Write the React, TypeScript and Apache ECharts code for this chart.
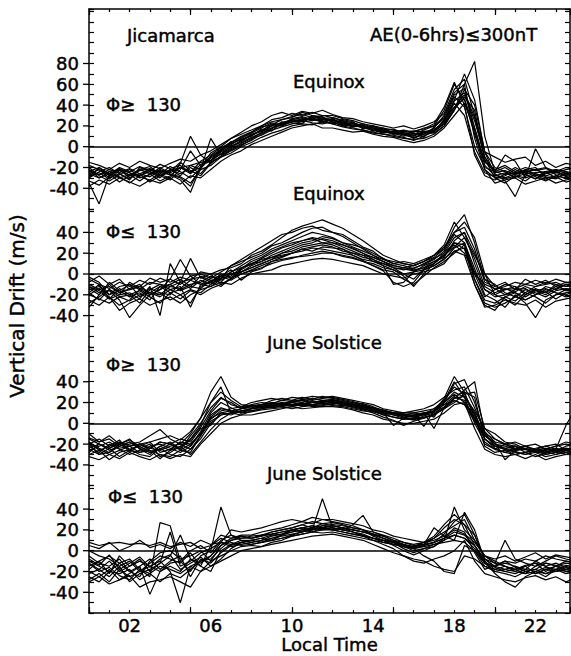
import React, { useEffect, useRef } from 'react';
import * as echarts from 'echarts';

// ---------- data ----------
const hours = [0, 0.5, 1, 1.5, 2, 2.5, 3, 3.5, 4, 4.5, 5, 5.5, 6, 6.5, 7, 7.5, 8, 8.5, 9, 9.5, 10, 10.5, 11, 11.5,
  12, 12.5, 13, 13.5, 14, 14.5, 15, 15.5, 16, 16.5, 17, 17.5, 18, 18.5, 19, 19.5, 20, 20.5, 21, 21.5, 22, 22.5, 23, 23.5, 24];

// Panel 1: Equinox, flux >= 130
const equinoxHighFlux = [
  [-20,-28,-33,-27,-22,-29,-32,-26, -19,-24,-30,-21,-10,-4,2,8, 13,18,23,21,27,29,26,24, 27,22,19,20,16,13,15,11, 9,12,18,30,52,60,8,-22, -30,-28,-22,-27,-31,-26,-23,-29, -25],
  [-30,-24,-20,-26,-31,-22,-19,-27, -30,-16,10,-8,-16,-9,-3,2, 6,12,17,24,23,22,30,29, 23,26,24,17,19,17,12,14, 15,14,13,20,35,55,40,-5, -20,-24,-30,-22,-20,-29,-31,-25, -28],
  [-33,-37,-29,-22,-25,-30,-27,-20, -26,-29,-35,-22,8,-8,-2,3, 8,11,16,19,22,24,25,27, 26,21,23,20,15,18,13,10, 13,11,14,22,42,30,-5,-25, -29,-31,-28,-33,-26,-30,-28,-24, -30],
  [-18,-22,-27,-20,-24,-19,-23,-17, -21,-18,-25,-14,-8,-1,4,9, 14,19,21,26,29,31,28,30, 28,25,20,22,18,16,17,13, 12,16,20,35,60,45,12,-15, -22,-18,-24,-20,-23,-21,-25,-22, -20],
  [-26,-30,-24,-29,-35,-28,-24,-30, -22,-26,-20,-26,-15,-10,-4,1, 7,14,20,20,24,25,23,22, 24,20,18,16,14,12,11,9, 6,10,15,25,45,70,45,-5, -27,-30,-26,-24,-29,-33,-28,-30, -27],
  [-24,-20,-26,-30,-27,-23,-21,-25, -27,-30,-38,-20,-11,-5,0,6, 11,16,20,23,26,25,29,27, 25,24,22,19,18,14,13,12, 11,14,17,22,35,60,82,10, -25,-23,-27,-24,-22,-26,-24,-28, -23],
  [-28,-25,-31,-23,-27,-33,-26,-22, -25,-20,-26,-17,-13,-7,1,4, 9,13,18,21,24,27,26,25, 22,24,19,21,16,14,15,12, 10,15,14,26,48,38,0,-20, -24,-8,-14,-30,-2,-20,-27,-31, -26],
  [-35,-55,-27,-21,-25,-28,-22,-28, -24,-15,-23,-28,-16,-4,3,7, 10,17,15,23,25,24,28,23, 26,22,23,18,20,16,14,15, 13,9,19,27,38,50,25,-10, -26,-33,-48,-26,-25,-24,-30,-26, -28],
  [-23,-27,-22,-25,-21,-26,-29,-23, -27,-32,-44,-19,-9,-3,5,6, 12,15,22,20,26,28,25,28, 24,20,21,18,16,15,12,13, 8,12,16,22,38,46,18,-18, -28,-25,-29,-26,-31,-24,-22,-26, -24],
  [-25,-27,-24,-22,-28,-26,-22,-24, -23,-20,-18,-15,-13,-7,-1,5, 11,15,18,22,24,26,27,26, 25,23,20,19,17,15,13,12, 11,13,16,24,44,52,28,-10, -24,-27,-25,-23,-26,-28,-25,-27, -26],
  [-15,-18,-22,-16,-20,-14,-18,-21, -16,-12,-14,-8,-4,2,8,14, 20,24,30,33,30,34,32,35, 31,28,27,24,22,20,18,20, 17,20,24,32,55,65,30,-5, -10,-15,-12,-10,-18,-14,-20,-16, -18],
  [-38,-32,-36,-30,-34,-38,-32,-35, -30,-36,-28,-30,-22,-14,-8,-4, 2,6,10,14,18,20,22,18, 18,16,14,15,12,10,9,6, 4,6,10,18,30,42,15,-22, -35,-32,-30,-36,-33,-30,-35,-32, -30],
  [-22,-30,-26,-34,-28,-22,-26,-33, -28,-20,-24,-20,-6,0,8,12, 16,20,26,28,32,30,33,30, 30,27,25,22,20,18,16,14, 15,17,22,38,62,40,-8,-28, -32,-26,-20,-25,-22,-20,-24,-20, -22],
  [-30,-20,-28,-22,-30,-26,-34,-28, -22,-28,-18,-22,-18,-10,-6,0, 4,9,13,16,20,22,21,24, 22,19,17,16,13,12,10,8, 7,8,12,20,36,48,35,-12, -30,-35,-28,-30,-27,-32,-29,-34, -31],
  [-26,-22,-30,-26,-32,-20,-24,-28, -32,-22,-4,-18,-14,-2,4,10, 14,20,24,26,28,33,30,27, 28,25,23,20,18,16,14,16, 14,18,20,28,50,56,18,-14, -24,-20,-26,-22,-28,-25,-22,-24, -26],
];

// Panel 2: Equinox, flux <= 130
const equinoxLowFlux = [
  [-5,-10,-14,-8,-12,-6,-10,-4, -8,-3,-6,2,0,4,6,10, 18,22,28,35,42,46,49,52, 48,44,38,32,25,18,14,10, 8,12,16,24,45,57,30,-5, -15,-12,-8,-10,-6,-9,-5,-8, -7],
  [-20,-24,-28,-22,-26,-20,-18,-22, -15,-12,-32,-10,-8,-12,-4,0, 3,6,10,13,15,18,20,22, 20,17,15,12,8,4,2,-5, -10,-2,6,12,20,28,-5,-28, -32,-28,-22,-25,-20,-17,-24,-18, -16],
  [-12,-18,-16,-25,-42,-30,-20,-15, -10,-5,-12,-2,-6,-8,2,8, 14,18,24,28,32,36,40,38, 35,30,28,25,20,15,10,8, 5,10,15,20,35,40,10,-15, -20,-24,-30,-20,-15,-18,-12,-15, -14],
  [-28,-22,-15,-20,-18,-24,-12,-40, 10,-8,15,-4,0,-10,-5,4, 10,12,16,18,20,24,22,26, 25,24,18,14,12,8,4,-2, -12,0,10,18,28,20,0,-10, -14,-20,-17,-12,-16,-20,-14,-10, -12],
  [-15,-12,-20,-16,-22,-18,-25,-12, -18,-15,-10,-8,-2,-6,0,2, 6,10,14,17,20,22,25,24, 22,20,18,13,8,3,-8,-12, -8,4,8,15,22,18,-10,-30, -35,-22,-18,-25,-20,-15,-18,-22, -20],
  [-32,-20,-10,-18,-14,-10,-20,-15, -5,14,-2,-10,-12,-5,8,12, 16,20,27,30,35,40,44,45, 40,38,32,26,22,14,12,10, 8,12,18,28,50,35,18,0, -12,-15,-14,-10,-12,-8,-10,-12, -11],
  [-20,-14,-22,-30,-25,-15,-20,-18, -25,-20,-28,-12,-8,-2,-6,0, 4,8,12,14,16,17,18,20, 20,18,16,12,10,6,4,0, 2,4,8,14,25,30,5,-20, -25,-32,-20,-28,-42,-25,-20,-15, -18],
  [-3,-8,-20,-12,-10,-15,-8,-10, -12,-8,-5,-3,-8,0,-4,5, 12,16,22,26,30,32,35,33, 30,28,25,20,16,12,6,4, 6,9,14,22,38,30,0,-22, -15,-10,-12,-18,-12,-10,-8,-12, -10],
  [-18,-25,-15,-22,-20,-28,-15,-10, -15,-20,-15,-18,-10,-4,2,6, 9,15,20,25,28,32,34,30, 28,24,20,18,12,10,6,5, 3,6,10,18,30,24,2,-15, -22,-20,-15,-14,-20,-12,-15,-10, -14],
  [-10,-15,-12,-18,-15,-12,-18,-20, -12,-14,-6,-10,-4,-2,4,-6, 2,5,12,16,20,24,26,28, 26,22,20,16,14,8,-10,-8, 2,8,12,16,32,40,20,-5, -10,-18,-22,-15,-18,-22,-16,-14, -15],
  [-8,-2,-10,-5,-15,-12,-4,-8, -5,-10,-2,0,-4,2,8,14, 20,26,32,38,40,44,46,42, 40,36,30,24,18,12,8,6, 8,12,18,26,40,45,24,-8, -12,-8,-15,-5,-10,-6,-12,-8, -10],
  [-25,-30,-22,-35,-28,-24,-30,-26, -22,-28,-20,-15,-12,-8,-10,-4, 0,2,4,8,10,12,14,15, 14,12,10,8,4,0,-2,-4, 0,2,5,10,22,25,-10,-32, -30,-25,-28,-30,-25,-32,-26,-24, -22],
  [-14,-20,-8,-16,-10,-22,-14,-18, -20,-8,-14,-6,-10,-2,0,2, 8,12,18,22,26,30,32,36, 34,30,26,22,18,14,10,12, 10,14,18,24,40,50,35,0, -20,-15,-12,-20,-14,-18,-10,-16, -15],
  [-18,-10,-24,-14,-20,-16,-22,-28, -18,-24,-16,-20,-14,-10,-4,2, 6,10,14,20,24,28,30,34, 32,28,24,20,14,10,6,0, -5,5,10,20,30,28,-5,-25, -28,-22,-26,-18,-22,-28,-20,-18, -17],
  [-12,-16,-24,-20,-8,-14,-18,-12, -10,-16,-12,-14,-6,-4,-2,6, 10,14,16,20,22,26,28,30, 30,26,22,18,16,12,8,6, 4,6,12,18,26,35,15,-12, -18,-14,-18,-22,-16,-14,-18,-20, -16],
];

// Panel 3: June solstice, flux >= 130
const juneHighFlux = [
  [-18,-24,-28,-20,-15,-25,-30,-22, -18,-25,-12,0,15,25,18,15, 16,18,20,18,22,20,24,22, 21,20,18,16,14,12,10,8, 8,10,12,22,35,28,10,-15, -22,-25,-28,-30,-28,-32,-30,-26, -28],
  [-28,-20,-24,-32,-26,-20,-18,-28, -25,-18,-20,-10,5,10,8,12, 14,15,16,20,18,17,20,21, 22,20,16,14,12,8,6,4, 5,6,8,15,25,22,5,-20, -25,-20,-22,-28,-25,-30,-28,-24, -25],
  [-10,-18,-15,-22,-20,-18,-12,-6, -15,-20,-10,5,30,45,25,18, 17,18,22,24,22,25,23,26, 24,22,20,19,16,12,10,8, 6,9,14,22,40,25,12,-5, -15,-20,-25,-22,-26,-24,-27,-22, -20],
  [-30,-26,-35,-28,-25,-30,-32,-24, -30,-32,-25,-15,0,8,10,12, 12,14,15,16,14,16,17,18, 20,18,15,13,10,6,3,-2, 2,5,8,14,20,28,30,-5, -10,-18,-20,-25,-28,-25,-22,-18, -20],
  [-22,-28,-20,-25,-30,-26,-22,-20, -24,-28,-22,-8,10,20,15,10, 14,16,15,17,20,19,18,20, 21,19,18,15,14,10,-2,5, 8,10,6,20,30,25,0,-18, -25,-28,-30,-28,-32,-29,-26,-30, -28],
  [-20,-15,-22,-18,-25,-22,-28,-25, -20,-15,-18,-5,-2,10,12,14, 16,18,17,18,20,18,20,19, 18,17,16,14,12,11,9,8, 10,8,12,18,22,18,10,-12, -20,-24,-22,-25,-24,-22,-25,-28, -26],
  [-25,-30,-28,-22,-18,-24,-20,-32, -28,-22,-15,-2,20,35,10,8, 12,14,18,16,18,20,16,17, 19,20,18,16,12,8,10,6, 4,10,-5,15,22,18,2,-12, -18,-35,-26,-24,-27,-28,-25,-2, 15],
  [-15,-20,-24,-20,-26,-28,-24,-18, -20,-26,-28,-12,8,15,12,10, 14,16,18,20,17,19,21,20, 22,21,19,17,14,12,8,7, 6,8,12,24,45,30,5,-10, -22,-25,-27,-30,-26,-28,-24,-26, -24],
  [-26,-22,-18,-24,-22,-20,-26,-30, -32,-26,-20,-10,4,12,14,16, 17,16,19,18,20,22,20,21, 20,18,16,14,12,10,8,5, 3,7,10,16,24,32,40,-10, -20,-22,-25,-24,-28,-26,-25,-24, -25],
  [-20,-25,-30,-26,-22,-20,-24,-26, -22,-20,-25,-12,2,8,10,12, 14,15,16,17,18,17,18,19, 20,18,17,15,13,11,9,8, 8,-3,12,20,28,20,4,-15, -22,-24,-26,-25,-27,-30,-28,-25, -24],
  [-14,-18,-12,-20,-16,-22,-18,-15, -12,-16,-8,5,20,30,22,16, 20,22,24,22,25,24,26,25, 26,24,22,20,18,14,12,10, 12,14,18,25,32,35,15,-8, -18,-20,-24,-22,-20,-25,-22,-20, -22],
  [-32,-35,-30,-34,-28,-32,-35,-30, -34,-30,-32,-20,-10,0,5,8, 8,10,12,14,16,14,15,16, 16,15,13,10,8,4,2,0, 0,2,4,10,18,20,-5,-25, -30,-32,-30,-34,-30,-35,-32,-30, -30],
  [-24,-20,-26,-22,-18,-24,-28,-22, -26,-22,-30,-18,-6,4,10,14, 18,20,19,22,21,23,22,24, 25,23,21,18,15,12,10,10, 10,12,14,20,38,42,20,-10, -15,-20,-18,-22,-25,-22,-20,-26, -24],
  [-18,-26,-22,-16,-28,-20,-24,-18, -20,-24,-16,-4,12,24,20,14, 15,17,20,19,21,22,20,22, 23,21,20,17,15,13,10,9, 7,9,11,18,26,30,25,-15, -24,-28,-25,-22,-26,-27,-30,-28, -27],
  [-20,-30,-24,-18,-22,-28,-26,-34, -26,-18,-22,-10,6,14,12,10, 11,13,14,15,16,18,17,16, 17,16,14,12,11,9,6,4, 4,5,9,14,24,26,8,-22, -28,-26,-30,-28,-26,-24,-28,-30, -26],
];

// Panel 4: June solstice, flux <= 130
const juneLowFlux = [
  [8,5,7,8,6,7,5,8, 4,6,8,2,5,15,12,14, 12,14,18,20,22,25,28,26, 27,25,22,20,18,15,12,8, 5,6,8,12,18,15,5,-8, -15,-10,-12,-8,-10,-5,-8,-10, -12],
  [-20,-25,-18,-28,-22,-15,-42,-20, -15,-20,-8,-12,-5,5,10,12, 14,15,16,18,20,22,24,22, 24,22,20,18,16,12,8,4, 2,4,6,10,15,12,2,-12, -20,-22,-25,-20,-18,-22,-20,-18, -20],
  [-10,-15,-20,-12,-8,-18,-25,27, 24,-10,-20,-5,0,42,15,10, 8,10,14,16,20,22,20,22, 24,22,18,16,12,8,6,4, 0,2,4,10,42,20,10,-5, -10,-15,-18,-22,-20,-16,-18,-14, -16],
  [-28,-22,-30,-18,-25,-20,-15,-10, -20,-50,-15,-10,-5,8,6,10, 10,12,10,15,20,18,22,20, 22,20,18,14,10,6,2,-5, -8,-10,-15,-18,-20,-5,-8,-15, -18,-20,-22,-18,-20,-25,-18,-22, -20],
  [0,-5,-8,-15,-10,-20,-12,-5, -8,-12,-2,-15,5,12,8,5, 6,8,10,12,15,18,20,50, 22,20,18,15,12,10,6,4, 2,5,8,12,15,12,5,-10, -18,-15,-20,-15,-12,-15,-20,-18, -16],
  [-15,-10,-5,-12,-20,-15,-8,-18, -10,-5,-25,-8,-12,-2,5,8, 6,8,10,12,14,16,18,20, 20,18,16,14,12,10,8,6, 4,6,22,14,10,37,20,-10, -22,-30,-35,-25,-20,-22,-18,-20, -22],
  [-22,-18,-25,-15,-30,-22,-18,-12, -5,15,-8,-15,-20,0,6,8, 10,12,15,16,18,20,22,24, 22,20,25,34,18,14,10,8, 6,8,10,14,20,16,8,-5, -12,10,-8,-12,-15,-10,-5,-8, -10],
  [-5,-12,-15,-8,-20,-25,-10,-2, 0,-8,-5,0,-10,5,12,15, 15,18,20,22,25,28,26,30, 28,26,24,20,16,14,10,6, 2,-5,-10,-20,-22,5,0,-15, -20,-18,-15,-20,-22,-18,-15,-20, -18],
  [-12,-18,-10,-20,-15,-10,-15,-20, -12,-10,0,5,-2,10,15,12, 12,14,16,18,20,22,24,22, 20,22,20,18,16,12,8,2, -2,2,6,8,10,8,0,-12, -15,-18,-20,-22,-15,-12,-15,-10, -12],
  [-25,-30,-20,-22,-18,-28,-22,-15, -18,-22,-15,-20,-10,-5,0,4, 5,4,8,10,14,16,18,17, 18,16,14,12,10,8,6,5, 4,6,12,22,30,25,15,-8, -12,-15,-18,-14,-12,-20,-15,-12, -14],
  [5,2,8,0,4,10,3,6, 2,8,4,10,6,8,20,18, 20,22,25,28,30,28,32,30, 30,28,26,24,20,18,14,12, 10,8,12,18,24,30,10,-5, -8,-5,-10,-6,-2,-8,-4,-6, -8],
  [-30,-25,-32,-28,-24,-35,-30,-28, -25,-30,-35,-20,-15,-10,-5,0, 2,4,6,8,10,12,14,15, 16,14,12,10,6,2,-2,-5, -10,-12,-8,-5,0,10,-10,-22, -25,-28,-30,-26,-24,-28,-25,-30, -26],
  [-18,-10,-22,-5,-15,-8,-20,-12, 18,-15,-10,-2,2,8,4,6, 8,10,12,14,16,18,20,24, 25,24,22,20,14,10,8,5, 4,8,14,25,35,25,5,-12, -15,-12,-15,-18,-10,-15,-12,-16, -15],
  [-12,-20,-16,-24,-28,-18,-22,-30, -22,-26,-18,-10,-8,2,10,14, 12,15,18,20,22,25,22,26, 24,22,20,18,15,12,9,6, 3,5,8,16,28,35,15,-8, -16,-20,-18,-15,-22,-18,-20,-15, -18],
  [-8,-14,-4,-18,-12,-6,-16,-8, -4,-18,-12,-6,-15,-8,2,8, 10,8,12,15,18,20,18,22, 20,18,16,14,12,10,5,0, -4,0,4,12,22,18,-2,-18, -14,-10,-16,-20,-18,-12,-14,-18, -15],
];

const panelLines = [equinoxHighFlux, equinoxLowFlux, juneHighFlux, juneLowFlux];
const panelTitles = ['Equinox', 'Equinox', 'June Solstice', 'June Solstice'];
const fluxLabels = ['Φ≥  130', 'Φ≤  130', 'Φ≥  130', 'Φ≤  130'];
const yTickLabels = [
  [-40, -20, 0, 20, 40, 60, 80],
  [-40, -20, 0, 20, 40],
  [-40, -20, 0, 20, 40],
  [-40, -20, 0, 20, 40],
];
const xTickValues = [2, 6, 10, 14, 18, 22];
const xTickLabels = ['02', '06', '10', '14', '18', '22'];
const siteLabel = 'Jicamarca';
const conditionLabel = 'AE(0-6hrs)≤300nT';
const yTitle = 'Vertical Drift (m/s)';
const xTitle = 'Local Time';

// ---------- layout ----------
const FONT = '"DejaVu Sans", sans-serif';
const FS = 18;
const gridLeft = 89;
const gridWidth = 481;
const xMax = 23.7;
const panelTop = [9, 209.1, 346.8, 485.7];
const panelHeight = [200.1, 137.7, 138.9, 127.4];
const yMin = [-60, -70, -60, -60];
const yMax = [132.4, 62.4, 73.6, 62.5];
const titlePos = [[293, 81], [293, 193], [267, 342], [267, 473]];
const fluxPos = [[106, 104], [106, 231], [106, 364], [108, 496]];

const black = '#000';
const frameLine = { color: black, width: 1.5 };
const TB = 0.45; // slight stroke to mimic the heavier scanned print

function buildOption() {
  const grids: any[] = panelTop.map((t, k) => ({
    left: gridLeft, top: t, width: gridWidth, height: panelHeight[k], outerBoundsMode: 'none',
  }));
  // overlay grids for the long (every 5 h) ticks on the top and bottom frame
  grids.push({ left: gridLeft, top: panelTop[0], width: gridWidth, height: panelHeight[0], outerBoundsMode: 'none' });
  grids.push({ left: gridLeft, top: panelTop[3], width: gridWidth, height: panelHeight[3], outerBoundsMode: 'none' });

  const xBase = { type: 'value', min: 0, max: xMax, splitLine: { show: false } };
  const labelText = { fontSize: FS, fontFamily: FONT, color: black, textBorderColor: black, textBorderWidth: TB };
  const xAxis: any[] = [
    {
      ...xBase, gridIndex: 0, position: 'top', interval: 1,
      axisLine: { show: true, onZero: false, lineStyle: frameLine },
      axisTick: { show: true, inside: true, length: 3, lineStyle: { color: black, width: 1.2 } },
      axisLabel: { show: false },
    },
    { ...xBase, gridIndex: 1, show: false },
    { ...xBase, gridIndex: 2, show: false },
    {
      ...xBase, gridIndex: 3, position: 'bottom', interval: 1,
      axisLine: { show: true, onZero: false, lineStyle: frameLine },
      axisTick: { show: true, inside: true, length: 3, lineStyle: { color: black, width: 1.2 } },
      axisLabel: {
        show: true, margin: 3, ...labelText,
        formatter: (v: number) => {
          const i = xTickValues.indexOf(Math.round(v));
          return i >= 0 && Math.abs(v - Math.round(v)) < 1e-6 ? xTickLabels[i] : '';
        },
      },
      name: xTitle, nameLocation: 'middle', nameGap: 19,
      nameTextStyle: { ...labelText },
    },
    {
      ...xBase, gridIndex: 4, position: 'top', interval: 5,
      axisLine: { show: false, onZero: false },
      axisTick: { show: true, inside: true, length: 6, lineStyle: { color: black, width: 1.2 } },
      axisLabel: { show: false },
    },
    {
      ...xBase, gridIndex: 5, position: 'bottom', interval: 5,
      axisLine: { show: false, onZero: false },
      axisTick: { show: true, inside: true, length: 6, lineStyle: { color: black, width: 1.2 } },
      axisLabel: { show: false },
    },
  ];

  const yAxis: any[] = [];
  for (let k = 0; k < 4; k++) {
    const labels = yTickLabels[k];
    yAxis.push({
      type: 'value', gridIndex: k, position: 'left', min: yMin[k], max: yMax[k], interval: 10,
      splitLine: { show: false },
      axisLine: { show: true, onZero: false, lineStyle: frameLine },
      axisTick: { show: true, inside: true, length: 5, lineStyle: { color: black, width: 1.2 } },
      axisLabel: {
        show: true, margin: 10, ...labelText, showMinLabel: true, showMaxLabel: true,
        formatter: (v: number) => {
          const r = Math.round(v);
          return Math.abs(v - r) < 1e-6 && labels.indexOf(r) >= 0 ? String(r) : '';
        },
      },
    });
  }
  for (let k = 0; k < 4; k++) {
    yAxis.push({
      type: 'value', gridIndex: k, position: 'right', min: yMin[k], max: yMax[k], interval: 10,
      splitLine: { show: false },
      axisLine: { show: true, onZero: false, lineStyle: frameLine },
      axisTick: { show: true, inside: true, length: 5, lineStyle: { color: black, width: 1.2 } },
      axisLabel: { show: false },
    });
  }
  yAxis.push({ type: 'value', gridIndex: 4, min: yMin[0], max: yMax[0], show: false });
  yAxis.push({ type: 'value', gridIndex: 5, min: yMin[3], max: yMax[3], show: false });

  const series: any[] = [];
  panelLines.forEach((lines, k) => {
    lines.forEach((line, j) => {
      const s: any = {
        type: 'line', xAxisIndex: k, yAxisIndex: k,
        data: hours.map((h, i) => [h, line[i]]),
        symbol: 'none', showSymbol: false, silent: true,
        lineStyle: { color: black, width: 1.2 },
        z: 3,
      };
      if (j === 0) {
        s.markLine = {
          silent: true, symbol: ['none', 'none'], label: { show: false },
          lineStyle: { color: black, width: 1.5, type: 'solid' },
          data: [{ yAxis: 0 }],
        };
      }
      series.push(s);
    });
    // outward ticks at the labelled values of the left axis
    series.push({
      type: 'custom', xAxisIndex: k, yAxisIndex: k, silent: true, clip: false,
      data: yTickLabels[k].map((v) => [0, v]),
      renderItem: (_p: any, api: any) => {
        const p = api.coord([0, api.value(1)]);
        return {
          type: 'line',
          shape: { x1: p[0] - 6, y1: p[1], x2: p[0], y2: p[1] },
          style: { stroke: black, lineWidth: 1.3 },
        };
      },
    });
  });

  const textStyle = (t: string, align = 'left') => ({
    text: t, fontSize: FS, fontFamily: FONT, fill: black, align, verticalAlign: 'middle',
    stroke: black, lineWidth: TB,
  });
  const graphic: any[] = [
    { type: 'text', x: 127, y: 35, style: textStyle(siteLabel) },
    { type: 'text', x: 370, y: 34, style: textStyle(conditionLabel) },
    { type: 'text', x: 17, y: 306, rotation: Math.PI / 2, style: { ...textStyle(yTitle, 'center'), fontSize: 20 } },
  ];
  panelTitles.forEach((t, k) => {
    graphic.push({ type: 'text', x: titlePos[k][0], y: titlePos[k][1], style: textStyle(t) });
    graphic.push({ type: 'text', x: fluxPos[k][0], y: fluxPos[k][1], style: textStyle(fluxLabels[k]) });
  });

  return {
    animation: false,
    backgroundColor: '#fff',
    textStyle: { fontFamily: FONT },
    grid: grids,
    xAxis,
    yAxis,
    series,
    graphic,
  };
}

export default function App() {
  const ref = useRef<HTMLDivElement | null>(null);
  useEffect(() => {
    if (!ref.current) return;
    const chart = echarts.init(ref.current, null, { renderer: 'svg' });
    chart.setOption(buildOption() as any);
    return () => chart.dispose();
  }, []);
  return (
    <div style={{ position: 'fixed', left: 0, top: 0, width: 571, height: 656, background: '#fff', overflow: 'hidden' }}>
      <div ref={ref} style={{ width: 571, height: 656 }} />
    </div>
  );
}
